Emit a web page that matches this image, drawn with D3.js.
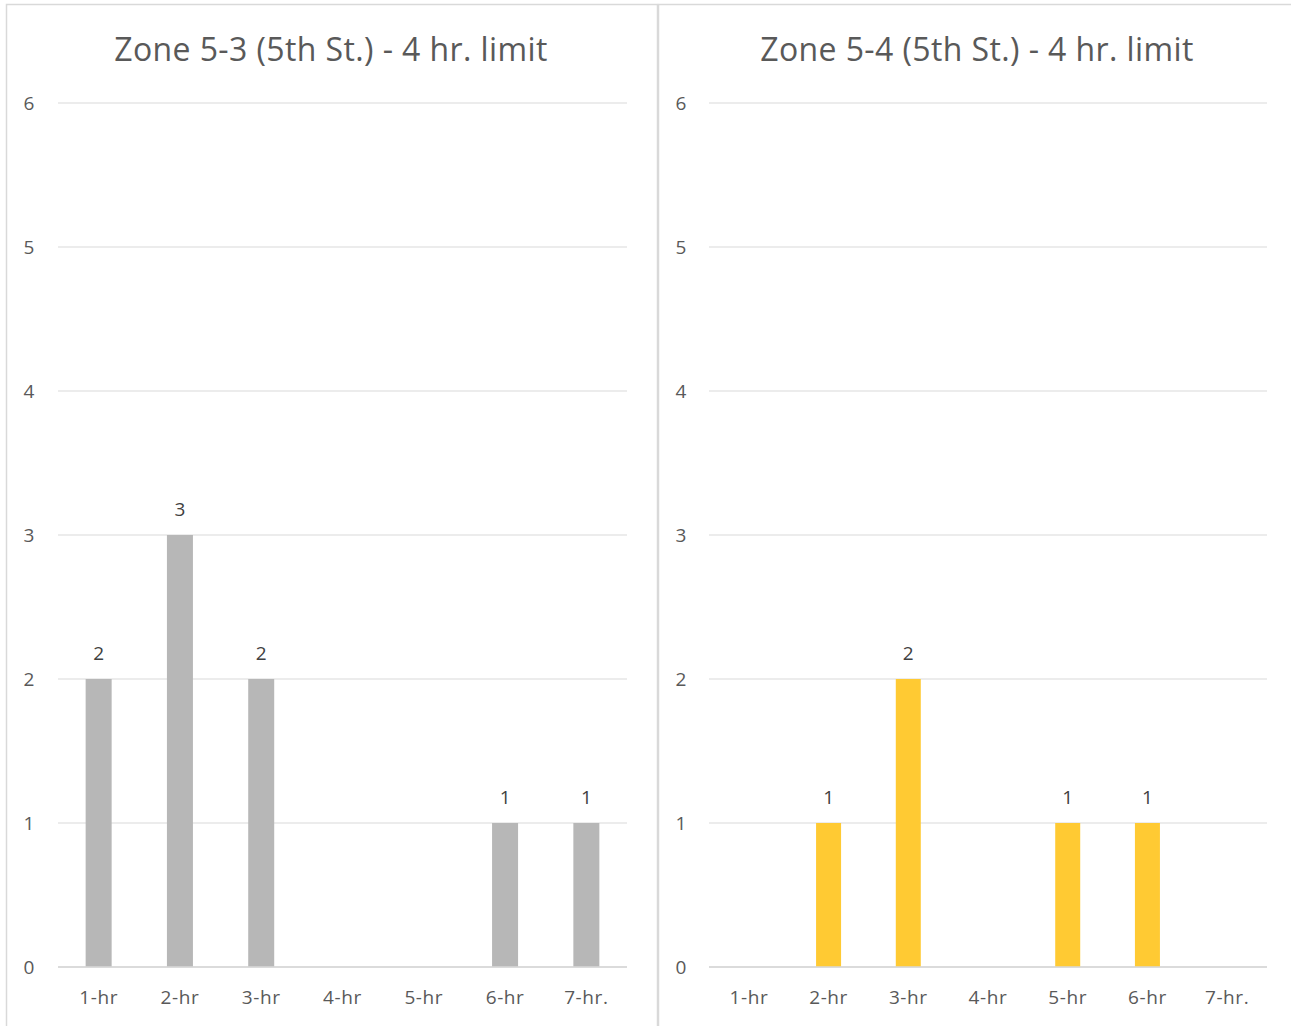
<!DOCTYPE html>
<html>
<head>
<meta charset="utf-8">
<script src="https://cdn.jsdelivr.net/npm/d3@7"></script>
<style>
  body { margin: 0; background: #fff; }
  svg text { font-family: "Open Sans", "Noto Sans", sans-serif; fill: #595959; }
</style>
</head>
<body>
<svg id="chart" width="1291" height="1026"></svg>
<script>
const categories = ["1-hr", "2-hr", "3-hr", "4-hr", "5-hr", "6-hr", "7-hr."];
const zone53Values = [2, 3, 2, 0, 0, 1, 1];
const zone54Values = [0, 1, 2, 0, 1, 1, 0];
const yTicks = [0, 1, 2, 3, 4, 5, 6];
const titles = ["Zone 5-3 (5th St.) - 4 hr. limit", "Zone 5-4 (5th St.) - 4 hr. limit"];

const svg = d3.select("#chart");

const panels = [
  { title: titles[0], values: zone53Values, color: "#b7b7b7",
    box: [6, 4, 651, 1030], plot: [58, 627], titleX: 331, tickX: 29, barW: 26 },
  { title: titles[1], values: zone54Values, color: "#ffca33",
    box: [658, 4, 650, 1030], plot: [709, 1267], titleX: 977, tickX: 681, barW: 25 }
];

const y = d3.scaleLinear().domain([0, 6]).range([967, 103]);

panels.forEach(p => {
  const g = svg.append("g");

  // chart frame
  g.append("rect")
    .attr("x", p.box[0] + 0.5).attr("y", p.box[1] + 0.5)
    .attr("width", p.box[2]).attr("height", p.box[3])
    .attr("fill", "none").attr("stroke", "#d9d9d9").attr("stroke-width", 1.5);

  const x = d3.scaleBand().domain(categories).range(p.plot);

  // horizontal gridlines
  g.selectAll("line.grid").data(yTicks).join("line")
    .attr("class", "grid")
    .attr("x1", p.plot[0]).attr("x2", p.plot[1])
    .attr("y1", d => y(d)).attr("y2", d => y(d))
    .attr("stroke", "#d9d9d9").attr("stroke-width", d => d === 0 ? 1.5 : 1.2);

  // y tick labels
  g.selectAll("text.ytick").data(yTicks).join("text")
    .attr("class", "ytick")
    .attr("x", p.tickX).attr("y", d => y(d))
    .attr("dy", "0.35em").attr("text-anchor", "middle")
    .attr("font-size", 19).text(d => d);

  // bars
  const data = categories.map((c, i) => ({ c, v: p.values[i] }));
  g.selectAll("rect.bar").data(data.filter(d => d.v > 0)).join("rect")
    .attr("class", "bar")
    .attr("x", d => x(d.c) + x.bandwidth() / 2 - p.barW / 2)
    .attr("width", p.barW)
    .attr("y", d => y(d.v))
    .attr("height", d => y(0) - y(d.v))
    .attr("fill", p.color);

  // redraw baseline over bars
  g.append("line")
    .attr("x1", p.plot[0]).attr("x2", p.plot[1])
    .attr("y1", y(0)).attr("y2", y(0))
    .attr("stroke", "#d9d9d9").attr("stroke-width", 1.5);

  // value labels
  g.selectAll("text.val").data(data.filter(d => d.v > 0)).join("text")
    .attr("class", "val")
    .attr("x", d => x(d.c) + x.bandwidth() / 2)
    .attr("y", d => y(d.v) - 19)
    .attr("text-anchor", "middle").attr("font-size", 19)
    .style("fill", "#404040")
    .text(d => d.v);

  // category labels
  g.selectAll("text.xtick").data(categories).join("text")
    .attr("class", "xtick")
    .attr("x", d => x(d) + x.bandwidth() / 2)
    .attr("y", 1004)
    .attr("text-anchor", "middle").attr("font-size", 19)
    .attr("letter-spacing", 0.6)
    .text(d => d);

  // title
  g.append("text")
    .attr("x", p.titleX).attr("y", 61)
    .attr("text-anchor", "middle").attr("font-size", 32)
    .attr("letter-spacing", 0.4)
    .text(p.title);
});
</script>
</body>
</html>
